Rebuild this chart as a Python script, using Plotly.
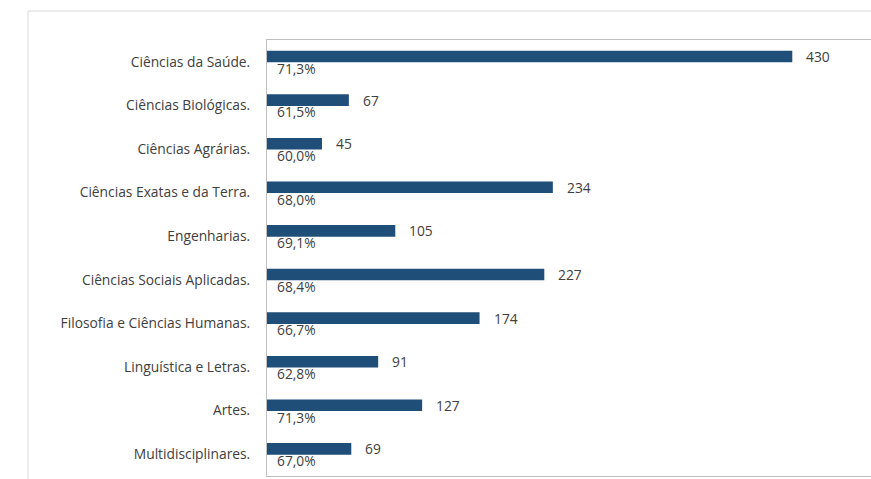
import plotly.graph_objects as go

categories = [
    "Ciências da Saúde.",
    "Ciências Biológicas.",
    "Ciências Agrárias.",
    "Ciências Exatas e da Terra.",
    "Engenharias.",
    "Ciências Sociais Aplicadas.",
    "Filosofia e Ciências Humanas.",
    "Linguística e Letras.",
    "Artes.",
    "Multidisciplinares.",
]
counts = [430, 67, 45, 234, 105, 227, 174, 91, 127, 69]
percents = [71.3, 61.5, 60.0, 68.0, 69.1, 68.4, 66.7, 62.8, 71.3, 67.0]

FONT = "Open Sans"
TEXT_COLOR = "#404040"
BAR_COLOR = "#1F4E79"

positions = list(range(len(categories)))

fig = go.Figure()
fig.add_trace(go.Bar(
    x=counts,
    y=positions,
    orientation="h",
    offset=-0.255,
    width=0.266,
    marker=dict(color=BAR_COLOR, line=dict(width=0)),
    hoverinfo="skip",
))

annotations = []
for pos, c, p in zip(positions, counts, percents):
    annotations.append(dict(
        x=c, y=pos - 0.122, xref="x", yref="y",
        text=str(c), showarrow=False, xanchor="left", yanchor="middle",
        xshift=12, font=dict(family=FONT, size=13.8, color=TEXT_COLOR),
    ))
    annotations.append(dict(
        x=0, y=pos + 0.15, xref="x", yref="y",
        text=f"{p:.1f}%".replace(".", ","), showarrow=False,
        xanchor="left", yanchor="middle", xshift=8,
        font=dict(family=FONT, size=13.8, color=TEXT_COLOR),
    ))

# outer frame lines (top and left)
shapes = [
    dict(type="line", xref="paper", yref="paper",
         x0=(28 - 267) / 604, x1=1.5, y0=465 / 436, y1=465 / 436,
         line=dict(color="#d9d9d9", width=1)),
    dict(type="line", xref="paper", yref="paper",
         x0=(28 - 267) / 604, x1=(28 - 267) / 604, y0=465 / 436, y1=-0.1,
         line=dict(color="#d9d9d9", width=1)),
]

fig.update_layout(
    width=871, height=479,
    margin=dict(l=267, r=0, t=40, b=3),
    paper_bgcolor="white", plot_bgcolor="white",
    showlegend=False,
    annotations=annotations,
    shapes=shapes,
    xaxis=dict(range=[0, 604 / 1.2216], showticklabels=False, showgrid=False,
               zeroline=False, showline=True, mirror=True,
               linecolor="#bfbfbf", linewidth=1, ticks=""),
    yaxis=dict(range=[len(categories) - 0.5, -0.5], tickvals=positions,
               ticktext=categories, showgrid=False, zeroline=False,
               showline=True, linecolor="#bfbfbf", linewidth=1,
               ticks="outside", ticklen=13, tickcolor="rgba(0,0,0,0)",
               tickfont=dict(family=FONT, size=13.8, color=TEXT_COLOR)),
)

fig.write_html("out.html")
